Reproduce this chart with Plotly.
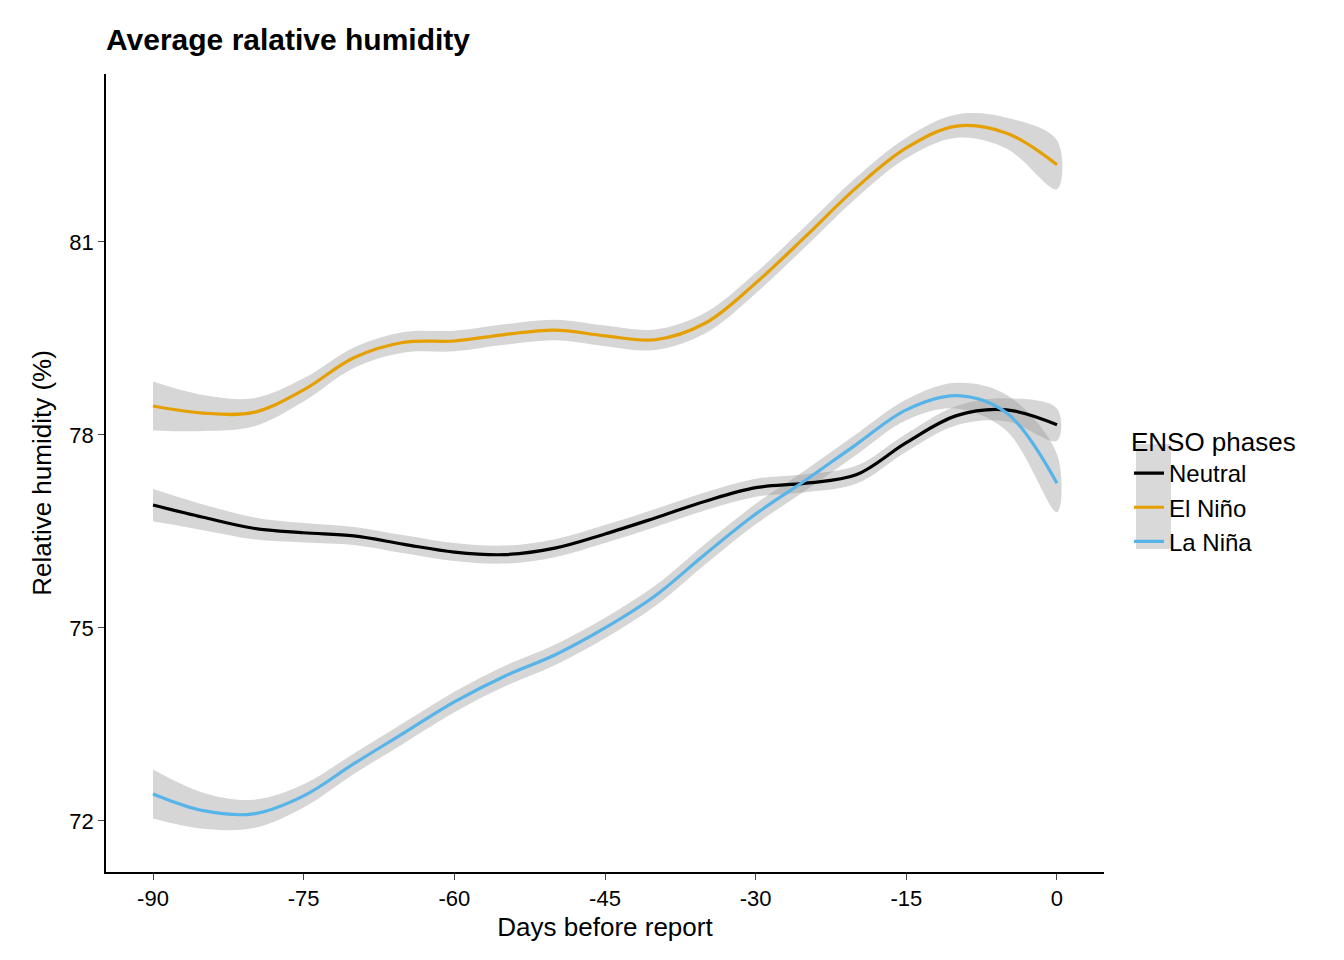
import plotly.graph_objects as go

days = [-90,-85,-80,-75,-70,-65,-60,-55,-50,-45,-40,-35,-30,-25,-20,-15,-10,-5,0]
neutral = [76.91,76.72,76.55,76.48,76.43,76.30,76.18,76.14,76.24,76.46,76.71,76.97,77.18,77.25,77.38,77.88,78.30,78.39,78.16]
elnino = [78.45,78.34,78.35,78.70,79.20,79.44,79.46,79.56,79.63,79.54,79.48,79.74,80.36,81.09,81.84,82.46,82.80,82.69,82.20]
lanina = [72.42,72.16,72.11,72.39,72.89,73.37,73.85,74.25,74.58,75.00,75.50,76.15,76.77,77.30,77.85,78.39,78.61,78.34,77.25]
se_neutral = [0.25,0.2,0.17,0.15,0.14,0.14,0.14,0.14,0.14,0.14,0.14,0.14,0.14,0.14,0.14,0.14,0.15,0.18,0.25]
se_elnino = [0.38,0.28,0.22,0.18,0.16,0.16,0.16,0.16,0.16,0.16,0.16,0.16,0.16,0.16,0.16,0.16,0.18,0.24,0.38]
se_lanina = [0.38,0.28,0.22,0.18,0.16,0.16,0.16,0.16,0.16,0.16,0.16,0.16,0.16,0.16,0.16,0.16,0.2,0.28,0.45]
xticks = [-90,-75,-60,-45,-30,-15,0]
xticklabels = ["-90","-75","-60","-45","-30","-15","0"]

series = [("Neutral", neutral, se_neutral, "#000000"),
          ("El Niño", elnino, se_elnino, "#E69F00"),
          ("La Niña", lanina, se_lanina, "#56B4E9")]

fig = go.Figure()
for name, vals, se, col in series:
    up = [v + s for v, s in zip(vals, se)]
    lo = [v - s for v, s in zip(vals, se)]
    fig.add_trace(go.Scatter(x=days + days[::-1], y=up + lo[::-1], fill="toself",
                             fillcolor="rgba(153,153,153,0.4)", line=dict(width=0, shape="spline"),
                             showlegend=False, hoverinfo="skip"))
for name, vals, se, col in series:
    fig.add_trace(go.Scatter(x=days, y=vals, mode="lines", name=name,
                             line=dict(color=col, width=3.2, shape="spline", smoothing=1.0)))

# gray legend key background
fig.add_shape(type="rect", xref="paper", yref="paper", x0=(1128-98)/998, x1=(1163-98)/998,
              y0=(864-541)/798, y1=(864-436)/798, fillcolor="#D9D9D9", line_width=0, layer="below")

fig.update_layout(
    width=1344, height=960, plot_bgcolor="white", paper_bgcolor="white",
    margin=dict(l=98, r=248, t=66, b=96),
    font=dict(family="Liberation Sans, Arial", size=22, color="black"),
    title=dict(text="<b>Average ralative humidity</b>", x=98/1344, xanchor="left", y=0.967, yanchor="middle",
               font=dict(size=30)),
    legend=dict(title=dict(text="ENSO phases", font=dict(size=26)), x=1.025, y=0.57, yanchor="top",
                font=dict(size=24), bgcolor="rgba(0,0,0,0)", tracegroupgap=0),
    xaxis=dict(range=[-94.68, 4.68], tickvals=xticks, ticktext=xticklabels, showgrid=False, zeroline=False,
               showline=True, linecolor="black", linewidth=1.5, ticks="outside", ticklen=6, automargin=False,
               title=dict(text="Days before report", font=dict(size=26), standoff=8), tickfont=dict(size=22)),
    yaxis=dict(range=[71.207, 83.61], tickvals=[72,75,78,81], showgrid=False, zeroline=False,
               showline=True, linecolor="black", linewidth=1.5, ticks="outside", ticklen=6, automargin=False,
               title=dict(text="Relative humidity (%)", font=dict(size=26), standoff=10), tickfont=dict(size=22)),
)
fig.write_html("out.html")
